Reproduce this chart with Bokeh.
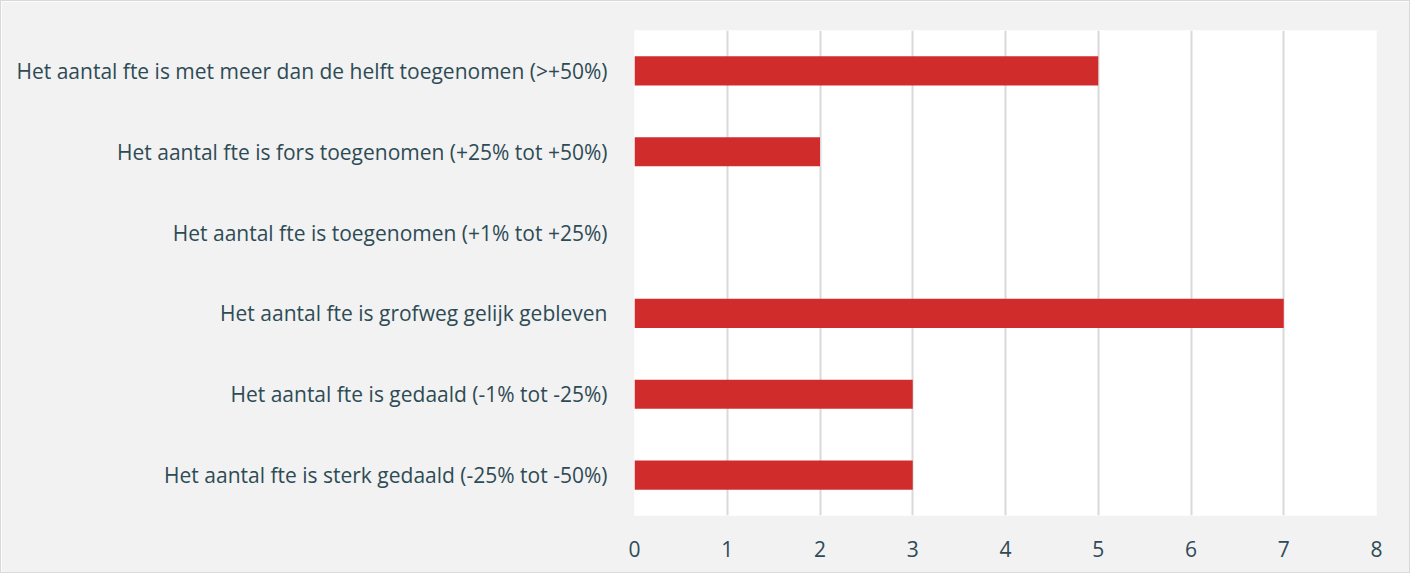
from bokeh.plotting import figure
from bokeh.models import FixedTicker
from bokeh.embed import file_html
from bokeh.resources import INLINE

categories = [
    "Het aantal fte is met meer dan de helft toegenomen (>+50%)",
    "Het aantal fte is fors toegenomen (+25% tot +50%)",
    "Het aantal fte is toegenomen (+1% tot +25%)",
    "Het aantal fte is grofweg gelijk gebleven",
    "Het aantal fte is gedaald (-1% tot -25%)",
    "Het aantal fte is sterk gedaald (-25% tot -50%)",
]
values = [5, 2, 0, 7, 3, 3]
x_ticks = [0, 1, 2, 3, 4, 5, 6, 7, 8]

TEXT = "#2e4b55"
FONT = "Open Sans"

p = figure(
    y_range=list(reversed(categories)),
    x_range=(0, 8),
    width=1410, height=573,
    output_backend="svg", toolbar_location=None,
    min_border_left=633, min_border_right=35, min_border_top=29, min_border_bottom=59,
    background_fill_color="white", border_fill_color="#f2f2f2",
    outline_line_color=None,
    styles={"border": "1px solid #d9d9d9"},
)
p.hbar(y=categories, right=values, left=0, height=0.36, color="#d12c2c", line_color=None)

p.xaxis.ticker = FixedTicker(ticks=x_ticks)
p.xgrid.ticker = FixedTicker(ticks=x_ticks)
p.xgrid.grid_line_color = "#d9d9d9"
p.xgrid.grid_line_width = 2
p.ygrid.grid_line_color = None

for ax in (p.xaxis, p.yaxis):
    ax.axis_line_color = None
    ax.major_tick_line_color = None
    ax.minor_tick_line_color = None
    ax.major_label_text_color = TEXT
    ax.major_label_text_font = FONT
    ax.major_label_text_font_size = "21px"
p.xaxis.major_label_standoff = 19
p.yaxis.major_label_standoff = 21

open("out.html", "w").write(file_html(p, INLINE))
